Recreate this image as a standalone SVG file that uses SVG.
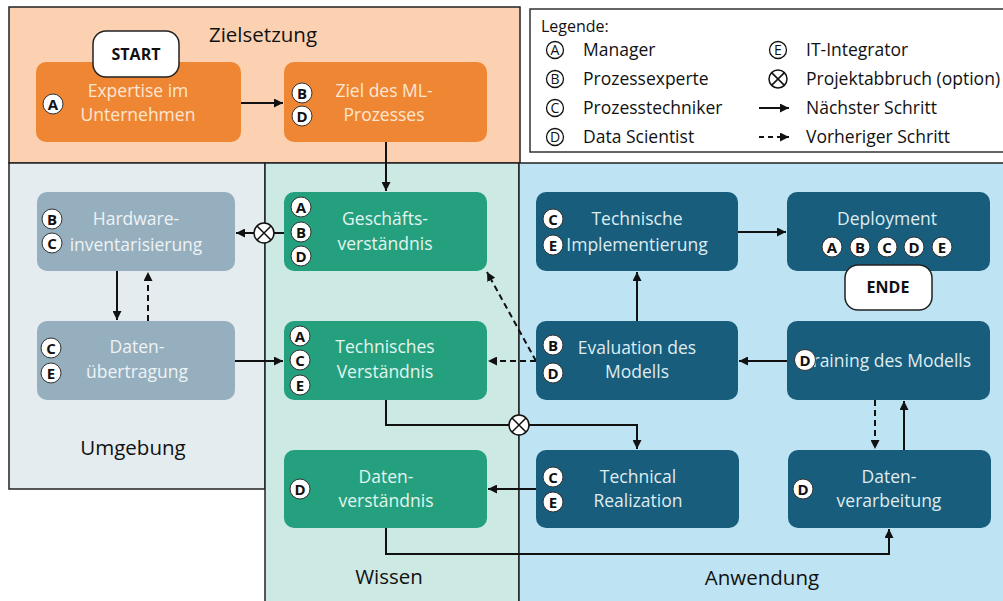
<svg xmlns="http://www.w3.org/2000/svg" width="1003" height="601" viewBox="0 0 1003 601">
<style>
text { font-family: "Open Sans", "Noto Sans", "Liberation Sans", sans-serif; }
.region { stroke: #222; stroke-width: 1.5; }
.title { font-size: 20.5px; fill: #111; text-anchor: middle; }
.node { rx: 10; ry: 10; }
.org { fill: #ef8633; }
.gry { fill: #95afbe; }
.grn { fill: #24a07e; }
.blu { fill: #185d7c; }
.t { font-size: 17.5px; text-anchor: middle; }
.to { fill: #fde6d4; }
.tg { fill: #eef3f6; }
.tn { fill: #e3f5ee; }
.tb { fill: #dfecf2; }
.badge circle { fill: #fff; stroke: #333; stroke-width: 1; }
.badge text { font-size: 15px; font-weight: bold; fill: #111; text-anchor: middle; }
.term rect { fill: #fff; stroke: #222; stroke-width: 1.5; }
.term text { font-size: 16px; font-weight: bold; fill: #111; text-anchor: middle; }
.con { fill: none; stroke: #111; stroke-width: 2; marker-end: url(#ah); }
.dash { stroke-dasharray: 6 4; }
.xs circle { fill: #fff; stroke: #111; stroke-width: 1.5; }
.xs path { stroke: #111; stroke-width: 1.5; }
.lg { font-size: 17.5px; fill: #111; }
.lc circle { fill: none; stroke: #111; stroke-width: 1.3; }
.lc text { font-size: 14px; fill: #111; text-anchor: middle; }
</style>
<defs>
<marker id="ah" viewBox="0 0 10 10" refX="10" refY="5" markerWidth="9" markerHeight="9" markerUnits="userSpaceOnUse" orient="auto">
<path d="M0,0 L10,5 L0,10 z" fill="#111"/>
</marker>
</defs>
<rect width="1003" height="601" fill="#fff"/>
<g id="regions">
<rect class="region" x="9" y="7" width="511" height="156" fill="#fbd1b2"/>
<rect class="region" x="9" y="163" width="256" height="326" fill="#e4ecf0"/>
<rect class="region" x="265" y="163" width="254" height="445" fill="#cde9e4"/>
<rect class="region" x="519" y="163" width="490" height="445" fill="#bee4f4"/>
<text class="title" x="263" y="42">Zielsetzung</text>
<text class="title" x="133" y="455">Umgebung</text>
<text class="title" x="389" y="584">Wissen</text>
<text class="title" x="762" y="585">Anwendung</text>
</g>
<g id="legend">
<rect x="530" y="9" width="480" height="143" fill="#fff" stroke="#333" stroke-width="1.5"/>
<text x="541" y="32" style="font-size:16px;fill:#111">Legende:</text>
<g class="lc">
<circle cx="555" cy="50" r="8.5"/><text x="555" y="55">A</text>
<circle cx="555" cy="79" r="8.5"/><text x="555" y="84">B</text>
<circle cx="555" cy="108" r="8.5"/><text x="555" y="113">C</text>
<circle cx="555" cy="137" r="8.5"/><text x="555" y="142">D</text>
<circle cx="778" cy="50" r="8.5"/><text x="778" y="55">E</text>
</g>
<g class="xs"><circle cx="778" cy="79" r="9"/><path d="M771.6,72.6 L784.4,85.4 M784.4,72.6 L771.6,85.4"/></g>
<path class="con" d="M759,108 H789"/>
<path class="con dash" d="M759,137 H789" style="stroke-dasharray:5 4"/>
<text class="lg" x="583" y="56">Manager</text>
<text class="lg" x="583" y="85">Prozessexperte</text>
<text class="lg" x="583" y="114">Prozesstechniker</text>
<text class="lg" x="583" y="143">Data Scientist</text>
<text class="lg" x="806" y="56">IT-Integrator</text>
<text class="lg" x="806" y="85">Projektabbruch (option)</text>
<text class="lg" x="806" y="114">Nächster Schritt</text>
<text class="lg" x="806" y="143">Vorheriger Schritt</text>
</g>
<g id="connectors">
<path class="con" d="M241,103 H283"/>
<path class="con" d="M386,142 V191"/>
<path class="con" d="M284,233 H236"/>
<path class="con" d="M117,271 V320"/>
<path class="con dash" d="M148,321 V272"/>
<path class="con" d="M235,361 H283"/>
<path class="con dash" d="M536,361 H488"/>
<path class="con dash" d="M536,361 L487,272"/>
<path class="con" d="M637,321 V272"/>
<path class="con" d="M738,232 H786"/>
<path class="con" d="M787,361 H739"/>
<path class="con" d="M386,400 V425 H637 V449"/>
<path class="con" d="M536,489 H488"/>
<path class="con" d="M386,528 V554 H889 V529"/>
<path class="con dash" d="M875,400 V449"/>
<path class="con" d="M904,450 V401"/>
<g class="xs"><circle cx="264" cy="233" r="10"/><path d="M257,226 L271,240 M271,226 L257,240"/></g>
<g class="xs"><circle cx="519" cy="425" r="10"/><path d="M512,418 L526,432 M526,418 L512,432"/></g>
</g>
<g id="n-expertise">
<rect class="node org" x="36" y="62" width="205" height="80"/>
<text class="t to" x="138" y="97">Expertise im</text>
<text class="t to" x="138" y="121">Unternehmen</text>
<g class="badge"><circle cx="53" cy="104" r="10"/><text x="53" y="109.5">A</text></g>
</g>
<g id="n-start" class="term">
<rect x="93" y="31" width="86" height="46" rx="13"/>
<text x="136" y="60">START</text>
</g>
<g id="n-ziel">
<rect class="node org" x="284" y="62" width="203" height="80"/>
<text class="t to" x="384" y="97">Ziel des ML-</text>
<text class="t to" x="384" y="121">Prozesses</text>
<g class="badge"><circle cx="302" cy="93" r="10"/><text x="302" y="98.5">B</text><circle cx="302" cy="116" r="10"/><text x="302" y="121.5">D</text></g>
</g>
<g id="n-hardware">
<rect class="node gry" x="37" y="192" width="198" height="79"/>
<text class="t tg" x="136" y="225">Hardware-</text>
<text class="t tg" x="136" y="251">inventarisierung</text>
<g class="badge"><circle cx="52" cy="219" r="10"/><text x="52" y="224.5">B</text><circle cx="52" cy="243" r="10"/><text x="52" y="248.5">C</text></g>
</g>
<g id="n-datenuebertragung">
<rect class="node gry" x="37" y="321" width="198" height="79"/>
<text class="t tg" x="137" y="353">Daten-</text>
<text class="t tg" x="137" y="378">übertragung</text>
<g class="badge"><circle cx="51" cy="348" r="10"/><text x="51" y="353.5">C</text><circle cx="51" cy="373" r="10"/><text x="51" y="378.5">E</text></g>
</g>
<g id="n-geschaeft">
<rect class="node grn" x="284" y="192" width="203" height="79"/>
<text class="t tn" x="385" y="225">Geschäfts-</text>
<text class="t tn" x="385" y="250">verständnis</text>
<g class="badge"><circle cx="301" cy="207" r="10"/><text x="301" y="212.5">A</text><circle cx="301" cy="232" r="10"/><text x="301" y="237.5">B</text><circle cx="301" cy="256" r="10"/><text x="301" y="261.5">D</text></g>
</g>
<g id="n-technisches">
<rect class="node grn" x="284" y="321" width="203" height="79"/>
<text class="t tn" x="385" y="353">Technisches</text>
<text class="t tn" x="385" y="378">Verständnis</text>
<g class="badge"><circle cx="300" cy="336" r="10"/><text x="300" y="341.5">A</text><circle cx="300" cy="360" r="10"/><text x="300" y="365.5">C</text><circle cx="300" cy="385" r="10"/><text x="300" y="390.5">E</text></g>
</g>
<g id="n-datenverstaendnis">
<rect class="node grn" x="284" y="450" width="203" height="78"/>
<text class="t tn" x="386" y="483">Daten-</text>
<text class="t tn" x="386" y="507">verständnis</text>
<g class="badge"><circle cx="300" cy="489" r="10"/><text x="300" y="494.5">D</text></g>
</g>
<g id="n-techimpl">
<rect class="node blu" x="536" y="192" width="202" height="79"/>
<text class="t tb" x="637" y="225">Technische</text>
<text class="t tb" x="637" y="251">Implementierung</text>
<g class="badge"><circle cx="553" cy="219" r="10"/><text x="553" y="224.5">C</text><circle cx="553" cy="245" r="10"/><text x="553" y="250.5">E</text></g>
</g>
<g id="n-deployment">
<rect class="node blu" x="787" y="192" width="203" height="79"/>
<text class="t tb" x="887" y="225">Deployment</text>
<g class="badge">
<circle cx="832" cy="247" r="10"/><text x="832" y="252.5">A</text>
<circle cx="860" cy="247" r="10"/><text x="860" y="252.5">B</text>
<circle cx="887" cy="247" r="10"/><text x="887" y="252.5">C</text>
<circle cx="914" cy="247" r="10"/><text x="914" y="252.5">D</text>
<circle cx="942" cy="247" r="10"/><text x="942" y="252.5">E</text>
</g>
</g>
<g id="n-ende" class="term">
<rect x="845" y="265" width="87" height="45" rx="13"/>
<text x="888" y="293">ENDE</text>
</g>
<g id="n-evaluation">
<rect class="node blu" x="536" y="321" width="202" height="79"/>
<text class="t tb" x="637" y="354">Evaluation des</text>
<text class="t tb" x="637" y="378">Modells</text>
<g class="badge"><circle cx="553" cy="345" r="10"/><text x="553" y="350.5">B</text><circle cx="553" cy="373" r="10"/><text x="553" y="378.5">D</text></g>
</g>
<g id="n-training">
<rect class="node blu" x="787" y="321" width="203" height="79"/>
<text class="t tb" x="887" y="367">Training des Modells</text>
<g class="badge"><circle cx="805" cy="360" r="10.5"/><text x="805" y="365.5">D</text></g>
</g>
<g id="n-techreal">
<rect class="node blu" x="536" y="450" width="203" height="78"/>
<text class="t tb" x="638" y="483">Technical</text>
<text class="t tb" x="638" y="507">Realization</text>
<g class="badge"><circle cx="553" cy="477" r="10"/><text x="553" y="482.5">C</text><circle cx="553" cy="502" r="10"/><text x="553" y="507.5">E</text></g>
</g>
<g id="n-datenverarbeitung">
<rect class="node blu" x="788" y="450" width="203" height="78"/>
<text class="t tb" x="889" y="483">Daten-</text>
<text class="t tb" x="889" y="507">verarbeitung</text>
<g class="badge"><circle cx="803" cy="489" r="10"/><text x="803" y="494.5">D</text></g>
</g>
</svg>
